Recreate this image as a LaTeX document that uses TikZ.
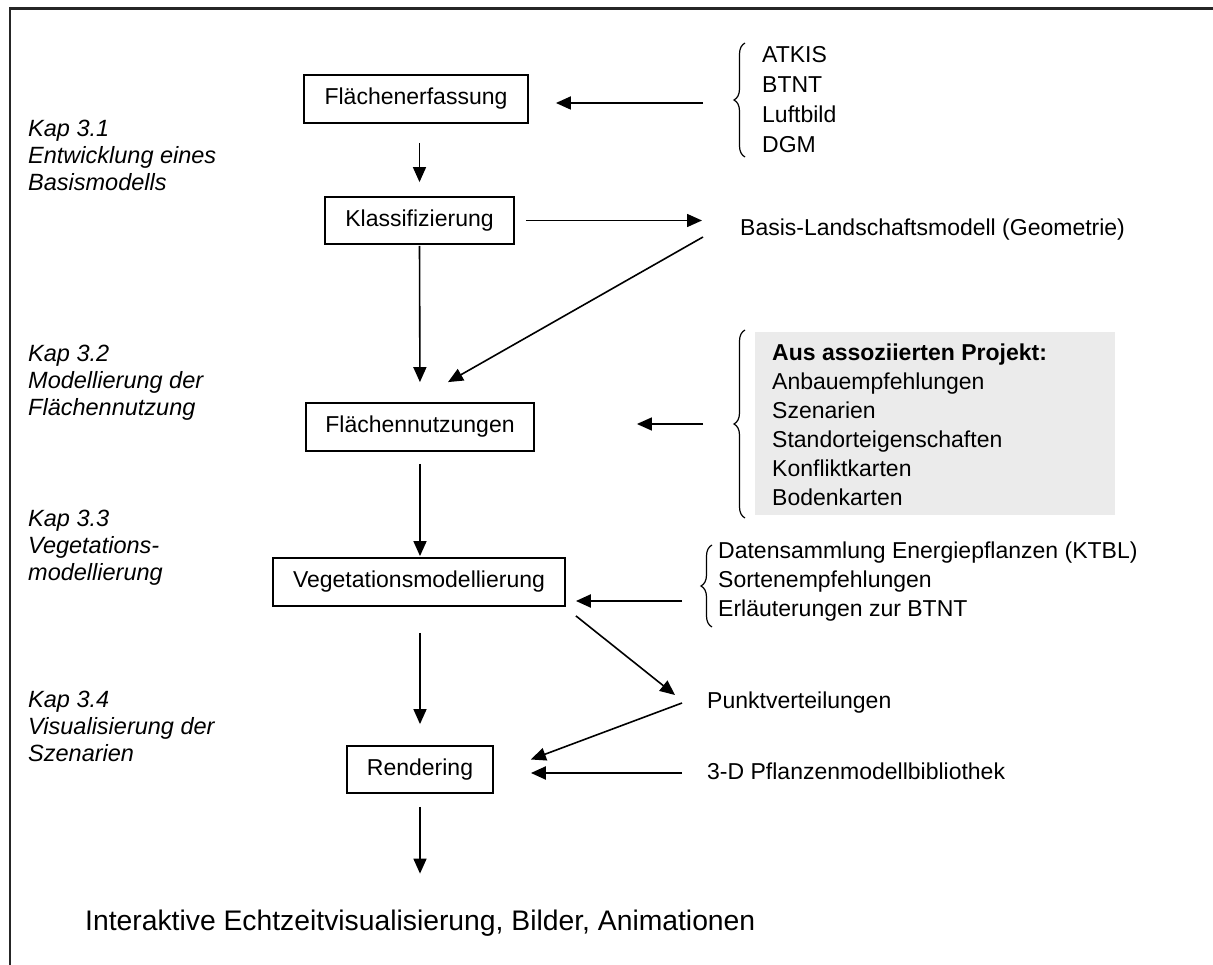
\documentclass[tikz,border=0pt]{standalone}
\usepackage{fontspec}
\setmainfont{Liberation Sans}
\usetikzlibrary{arrows.meta,decorations.pathreplacing}
\begin{document}
\begin{tikzpicture}[x=1pt,y=-1pt,
  box/.style={draw, line width=1.8pt, minimum height=48pt, inner sep=0pt, font=\fontsize{23}{29}\selectfont},
  txt/.style={anchor=west, inner sep=0pt, align=left, font=\fontsize{23}{29}\selectfont},
  kap/.style={anchor=west, inner sep=0pt, align=left, font=\fontsize{23.5}{27}\selectfont\itshape},
  arr/.style={-{Triangle[length=15pt,width=13pt]}, line width=1.6pt},
  brc/.style={decorate, decoration={brace, amplitude=11pt}, line width=1.2pt}]
\useasboundingbox (0,0) rectangle (1213,965);
% frame
\draw[line width=3pt, black!85] (9,8.5) -- (1213,8.5);
\draw[line width=2pt, black!85] (10,7) -- (10,965);
% boxes
\node[box, minimum width=224pt] (fe) at (416,99) {Flächenerfassung};
\node[box, minimum width=189pt, minimum height=47pt] (kl) at (419.5,220.5) {Klassifizierung};
\node[box, minimum width=228pt] (fn) at (420,427) {Flächennutzungen};
\node[box, minimum width=292pt] (vm) at (419,582) {Vegetationsmodellierung};
\node[box, minimum width=146pt, minimum height=47pt] (re) at (420,769.5) {Rendering};
% chapter labels
\node[kap] (k1) at (28,155) {Kap 3.1\\Entwicklung eines\\Basismodells};
\node[kap] (k2) at (28,383) {Kap 3.2\\Modellierung der\\Flächennutzung};
\node[kap] (k3) at (28,548) {Kap 3.3\\Vegetations-\\modellierung};
\node[kap] (k4) at (28,726) {Kap 3.4\\Visualisierung der\\Szenarien};
% sources
\node[txt, font=\fontsize{23}{30}\selectfont] (src1) at (762,100) {ATKIS\\BTNT\\Luftbild\\DGM};
\fill[black!8] (755,332) rectangle (1115,515);
\node[txt] (src2) at (772,424.5) {\textbf{Aus assoziierten Projekt:}\\Anbauempfehlungen\\Szenarien\\Standorteigenschaften\\Konfliktkarten\\Bodenkarten};
\node[txt] (src3) at (718,581.5) {Datensammlung Energiepflanzen (KTBL)\\Sortenempfehlungen\\Erläuterungen zur BTNT};
\node[txt] (basis) at (740,230) {Basis-Landschaftsmodell (Geometrie)};
\node[txt] (pv) at (707,703) {Punktverteilungen};
\node[txt] (pm) at (707,771) {3-D Pflanzenmodellbibliothek};
\node[txt, font=\fontsize{28.3}{34}\selectfont] (out) at (85,923) {Interaktive Echtzeitvisualisierung, Bilder, Animationen};
% braces
\draw[brc] (745,157) -- (745,43);
\draw[brc] (745,518) -- (745,330);
\draw[brc] (712,627) -- (712,545);
\coordinate (b1) at (703,103);
\coordinate (b2) at (703,424);
\coordinate (b3) at (682,601);
% arrows
\draw[arr, line width=1.8pt, shorten >=27pt] (b1) -- (b1 -| fe.east);
\draw[arr, shorten <=19pt, shorten >=14pt] (kl.north |- fe.south) -- (kl.north);
\draw[arr, shorten <=11pt, shorten >=38pt] (kl.east) -- (kl.east -| basis.west);
\draw[arr] ([shift={(-37,7)}]basis.west) -- ([shift={(28,-20)}]fn.north);
\draw[arr, shorten <=1pt, shorten >=20pt] (kl.south) -- (fn.north);
\draw[arr, shorten >=102pt] (b2) -- (b2 -| fn.east);
\draw[arr, shorten <=12pt, shorten >=1pt] (fn.south) -- (fn.south |- vm.north);
\draw[arr, line width=2.2pt, shorten >=10pt] (b3) -- (b3 -| vm.east);
\draw[arr] ([shift={(10,9)}]vm.south east) -- ([shift={(-32,-8)}]pv.west);
\draw[arr, shorten <=26pt, shorten >=21pt] (re.north |- vm.south) -- (re.north);
\draw[arr] ([shift={(-25,0)}]pv.west) -- ([shift={(37,-10)}]re.east);
\draw[arr, line width=2.2pt, shorten <=25pt, shorten >=37pt] (pm.west |- 0,773) -- (re.east |- 0,773);
\draw[arr, shorten <=13pt, shorten >=36pt] (re.south) -- (re.south |- out.north);
\end{tikzpicture}
\end{document}
